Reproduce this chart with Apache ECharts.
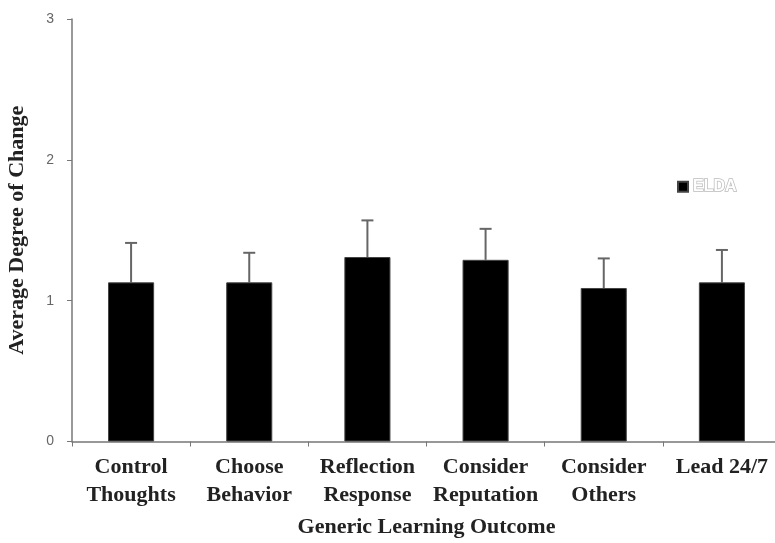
<!DOCTYPE html>
<html>
<head>
<meta charset="utf-8">
<script src="https://cdn.jsdelivr.net/npm/echarts@6/dist/echarts.min.js"></script>
<style>html,body{margin:0;padding:0;background:#fff}#c{width:775px;height:543px}</style>
</head>
<body>
<div id="c"></div>
<script>
const categories = ['Control\nThoughts', 'Choose\nBehavior', 'Reflection\nResponse', 'Consider\nReputation', 'Consider\nOthers', 'Lead 24/7'];
const means = [1.13, 1.13, 1.31, 1.29, 1.09, 1.13];
const errors = [0.28, 0.21, 0.26, 0.22, 0.21, 0.23];
const yTicks = [0, 1, 2, 3];
const seriesName = 'ELDA';
const xTitle = 'Generic Learning Outcome';
const yTitle = 'Average Degree of Change';

const chart = echarts.init(document.getElementById('c'), null, {renderer: 'canvas'});
const serif = '"Liberation Serif", "Times New Roman", serif';
chart.setOption({
  animation: false,
  backgroundColor: '#fff',
  grid: {left: 72, right: -6, top: 19, bottom: 101.5, containLabel: false, outerBoundsMode: 'none'},
  legend: {
    data: [{name: seriesName, icon: 'rect'}],
    left: 672, top: 173,
    itemWidth: 10, itemHeight: 10, itemGap: 6,
    textStyle: {color: '#fff', textBorderColor: '#bbb', textBorderWidth: 1.5, fontSize: 16, fontWeight: 'bold', fontFamily: 'Liberation Sans, Arial'}
  },
  xAxis: {
    type: 'category',
    data: categories,
    name: xTitle, nameLocation: 'middle', nameGap: 75,
    nameTextStyle: {color: '#222', fontFamily: serif, fontWeight: 'bold', fontSize: 22},
    axisLine: {lineStyle: {color: '#777', width: 1.5}},
    axisTick: {show: true, alignWithLabel: false, length: 5, lineStyle: {color: '#777'}},
    axisLabel: {color: '#222', fontFamily: serif, fontWeight: 'bold', fontSize: 22, lineHeight: 28, margin: 12, interval: 0}
  },
  yAxis: {
    type: 'value', min: 0, max: 3, interval: 1,
    name: yTitle, nameLocation: 'middle', nameGap: 44,
    nameTextStyle: {color: '#222', fontFamily: serif, fontWeight: 'bold', fontSize: 22},
    axisLine: {show: true, lineStyle: {color: '#777', width: 1.5}},
    axisTick: {show: true, length: 5, lineStyle: {color: '#777'}},
    splitLine: {show: false},
    axisLabel: {color: '#666', fontFamily: 'Liberation Sans, Arial', fontSize: 14, margin: 18,
      formatter: v => yTicks.includes(v) ? String(v) : ''}
  },
  series: [{
    name: seriesName,
    type: 'bar',
    data: means,
    barWidth: '39%',
    itemStyle: {color: '#000', borderColor: '#444', borderWidth: 1}
  }, {
    name: 'err',
    type: 'custom',
    data: means.map((m, i) => [i, m, m + errors[i]]),
    z: 1,
    renderItem: function (params, api) {
      const lo = api.coord([api.value(0), api.value(1)]);
      const hi = api.coord([api.value(0), api.value(2)]);
      const half = 6;
      return {
        type: 'group',
        children: [
          {type: 'line', shape: {x1: lo[0], y1: lo[1], x2: hi[0], y2: hi[1]}, style: {stroke: '#666', lineWidth: 2}},
          {type: 'line', shape: {x1: hi[0] - half, y1: hi[1], x2: hi[0] + half, y2: hi[1]}, style: {stroke: '#666', lineWidth: 2}}
        ]
      };
    }
  }]
});
</script>
</body>
</html>
